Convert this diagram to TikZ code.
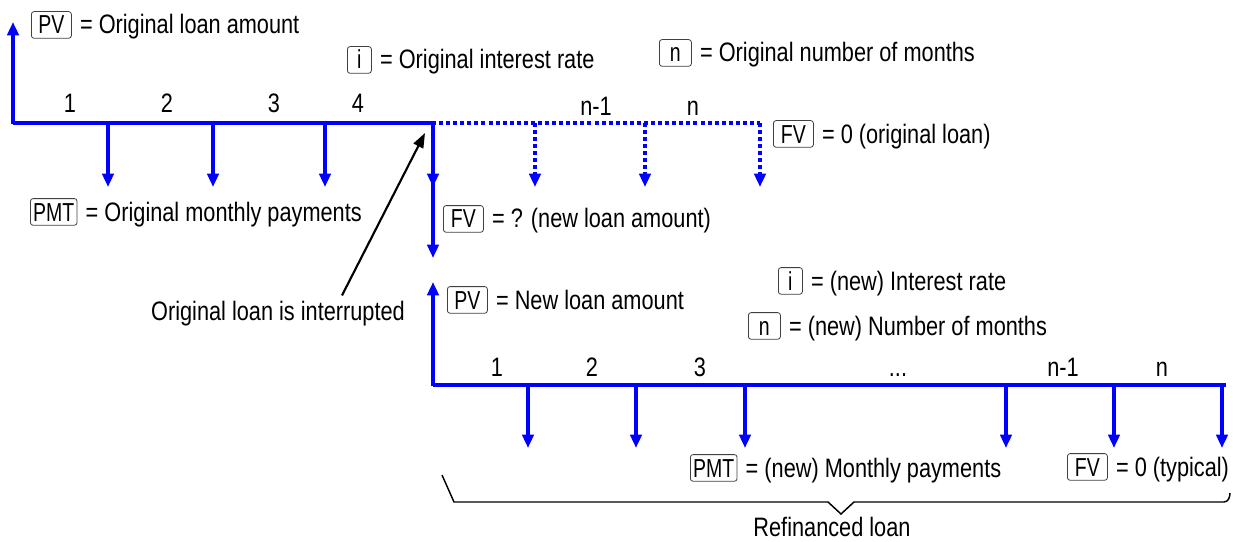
\documentclass[tikz,border=0pt]{standalone}
\usepackage{fontspec}
\setmainfont{Liberation Sans}[FakeStretch=0.815]
\newfontfamily\keyfam{Liberation Sans}[FakeStretch=0.75]
\usetikzlibrary{arrows.meta,calc}
\definecolor{cfblue}{RGB}{0,0,255}
\newcommand\lblfont{\fontsize{20pt}{23pt}\selectfont}
\newcommand\keyfont{\keyfam\fontsize{19.5pt}{22pt}\selectfont}
\begin{document}
\begin{tikzpicture}[x=0.75pt,y=-0.75pt,
  cf/.style={draw=cfblue, line width=2.7pt},
  tipd/.style={-{Triangle[length=10pt,width=8.5pt]}},
  dotline/.style={dash pattern=on 3pt off 2.3pt},
  key/.style={draw=black!75, line width=0.6pt, rounded corners=2pt, inner xsep=2pt, inner ysep=3.2pt, text height=13.6pt, text depth=0pt, font=\keyfont, align=center},
  txt/.style={inner sep=0pt, font=\lblfont},
  blk/.style={draw=black, line width=1.6pt, -{Triangle[length=11pt,width=8pt]}}]
\useasboundingbox (0,0) rectangle (1233,542);

% ---- original loan timeline
\coordinate (o0) at (13,123);
\coordinate (oInt) at (432,123);
\coordinate (oEnd) at (760,123);
\draw[cf] (o0) -- (oInt);
\draw[cf, tipd] ([yshift=-1pt]o0) -- (13,22);
\foreach \x in {108,213,325}{
  \draw[cf, tipd] (\x,123) -- (\x,187);
}
\foreach \x/\t in {70/1,167/2,274/3,358/4}{
  \node[txt, anchor=base] at (\x,113) {\t};
}
\draw[cf, dotline] (oInt) -- (oEnd);
\foreach \x in {535,645,760}{
  \draw[cf, dotline, tipd] (\x,123) -- (\x,187);
}
\node[txt, anchor=base] (nm1) at (596,116) {n-1};
\node[txt, anchor=base] (nn) at (693,116) {n};

% interruption
\coordinate (iTop) at (433,121.7);
\draw[cf, tipd] (iTop) -- (433,258);
\draw[cf, tipd] (iTop) -- (433,187);

% ---- labels top
\node[key, minimum width=30pt, anchor=base west] (kPV1) at (31,34) {PV};
\node[txt, anchor=base west] (tPV1) at ($(kPV1.base east)+(6pt,0)$) {= Original loan amount};
\node[key, minimum width=18pt, anchor=base west] (ki1) at (347,69) {i};
\node[txt, anchor=base west] (ti1) at ($(ki1.base east)+(6pt,0)$) {= Original interest rate};
\node[key, minimum width=24pt, anchor=base west] (kn1) at (659,62) {n};
\node[txt, anchor=base west] (tn1) at ($(kn1.base east)+(6pt,0)$) {= Original number of months};
\node[key, minimum width=30pt, anchor=base west] (kFV1) at (773,143) {FV};
\node[txt, anchor=base west] (tFV1) at ($(kFV1.base east)+(6pt,0)$) {= 0 (original loan)};
\node[key, minimum width=35pt, anchor=base west] (kPMT1) at (30,221) {PMT};
\node[txt, anchor=base west] (tPMT1) at ($(kPMT1.base east)+(6pt,0)$) {= Original monthly payments};
\node[key, minimum width=30pt, anchor=base west] (kFV2) at (443,228) {FV};
\node[txt, anchor=base west] (tFV2) at ($(kFV2.base east)+(6pt,0)$) {= ? (new loan amount)};

% interrupted note
\node[txt, anchor=base] (note) at (278,320) {Original loan is interrupted};
\coordinate (noteTip) at (425,133);
\draw[blk] ($(note.north)+(64,-5)$) -- (noteTip);

% ---- refinanced loan timeline
\coordinate (r0) at (433,385);
\coordinate (rEnd) at (1226,385);
\draw[cf, tipd] ([yshift=-1pt]r0) -- (433,282);
\draw[cf] (r0) -- (rEnd);
\foreach \x in {528,636,745,1006,1114,1222}{
  \draw[cf, tipd] (\x,385) -- (\x,448);
}
\foreach \x/\t in {497/1,592/2,700/3,898/{...},1063/n-1,1162/n}{
  \node[txt, anchor=base] at (\x,376) {\t};
}
\node[key, minimum width=30pt, anchor=base west] (kPV2) at (447,309) {PV};
\node[txt, anchor=base west] (tPV2) at ($(kPV2.base east)+(6pt,0)$) {= New loan amount};
\node[key, minimum width=18pt, anchor=base west] (ki2) at (778,290) {i};
\node[txt, anchor=base west] (ti2) at ($(ki2.base east)+(6pt,0)$) {= (new) Interest rate};
\node[key, minimum width=24pt, anchor=base west] (kn2) at (748,335) {n};
\node[txt, anchor=base west] (tn2) at ($(kn2.base east)+(6pt,0)$) {= (new) Number of months};
\node[key, minimum width=35pt, anchor=base west] (kPMT2) at (690,477) {PMT};
\node[txt, anchor=base west] (tPMT2) at ($(kPMT2.base east)+(6pt,0)$) {= (new) Monthly payments};
\node[key, minimum width=30pt, anchor=base west] (kFV3) at (1067,476) {FV};
\node[txt, anchor=base west] (tFV3) at ($(kFV3.base east)+(6pt,0)$) {= 0 (typical)};

% brace
\draw[black, line width=1.1pt, line join=miter]
  (442,475) -- (454,502) -- (828,502) -- (841,514) -- (854,502) -- (1224,502)
  to[out=0,in=-90] (1230,493);
\node[txt, anchor=base] (refi) at (832,536) {Refinanced loan};
\end{tikzpicture}
\end{document}
